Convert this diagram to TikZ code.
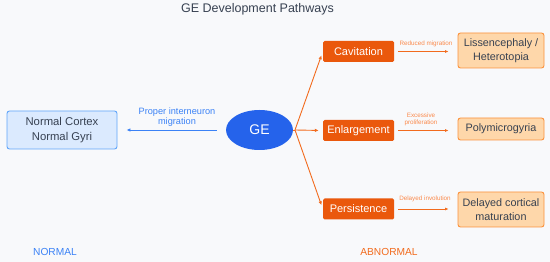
\documentclass[tikz,border=0pt]{standalone}
\usepackage{fontspec}
\setmainfont{Liberation Sans}
\usetikzlibrary{arrows.meta,shapes.geometric}
\definecolor{bg}{HTML}{F8F9FB}
\definecolor{txt}{HTML}{374151}
\definecolor{nfill}{HTML}{DBEAFE}
\definecolor{nborder}{HTML}{60A5FA}
\definecolor{geblue}{HTML}{2563EB}
\definecolor{lblue}{HTML}{3B82F6}
\definecolor{orbox}{HTML}{EA580C}
\definecolor{orline}{HTML}{F26B1D}
\definecolor{orlabel}{HTML}{FB8A4C}
\definecolor{pfill}{HTML}{FED7AA}
\definecolor{pborder}{HTML}{FB923C}
\begin{document}
\begin{tikzpicture}[x=1pt,y=-1pt,
  normbox/.style={draw=nborder,fill=nfill,rounded corners=2.5pt,line width=0.9pt,
    minimum width=110pt,minimum height=38pt,align=center,text=txt,
    font=\fontsize{11.3}{14.5}\selectfont,inner sep=0pt},
  geell/.style={ellipse,fill=geblue,minimum width=67pt,minimum height=40pt,
    text=white,font=\fontsize{14}{16}\selectfont,inner sep=0pt},
  orstep/.style={fill=orbox,rounded corners=1.5pt,minimum width=71pt,minimum height=21pt,
    text=white,font=\fontsize{11}{13}\selectfont,inner sep=0pt},
  outbox/.style={draw=pborder,fill=pfill,rounded corners=2.5pt,line width=0.9pt,
    minimum width=86pt,align=center,text=txt,
    font=\fontsize{10.8}{14}\selectfont,inner sep=0pt},
  blarrow/.style={draw=lblue,line width=0.9pt,-{Latex[length=4pt,width=3.5pt]}},
  orarrow/.style={draw=orline,line width=0.9pt,-{Latex[length=4pt,width=3.5pt]}},
  smallarrow/.style={draw=orline,line width=0.8pt,-{Latex[length=3.5pt,width=3pt]}},
  smalllab/.style={text=orlabel,font=\fontsize{6.3}{7.2}\selectfont,align=center,inner sep=0pt},
  seclab/.style={font=\fontsize{10.2}{12}\selectfont,inner sep=0pt}
]
\fill[bg] (0,0) rectangle (550,262);
\useasboundingbox (0,0) rectangle (550,262);

\node[text=txt,font=\fontsize{12.5}{14}\selectfont,inner sep=0pt] (title) at (257.5,9) {GE Development Pathways};

\node[normbox] (norm) at (62,130) {Normal Cortex\\Normal Gyri};
\node[geell] (ge) at (259.5,130) {GE};

\node[orstep] (cav) at (358.5,51.5) {Cavitation};
\node[orstep] (enl) at (358.5,130.5) {Enlargement};
\node[orstep] (per) at (358.5,209) {Persistence};

\node[outbox,minimum height=35pt] (lis) at (501,50.5) {Lissencephaly /\\Heterotopia};
\node[outbox,minimum height=22pt] (poly) at (501,129) {Polymicrogyria};
\node[outbox,minimum height=35pt] (del) at (501,209.5) {Delayed cortical\\maturation};

\draw[blarrow,shorten <=9pt,shorten >=9pt] (ge.west) -- (norm.east);
\node[text=lblue,font=\fontsize{9.2}{10.2}\selectfont,align=center,inner sep=0pt] (plab) at (177,117) {Proper interneuron\\migration};

\coordinate (br) at (295,130);
\draw[draw=orline,line width=0.9pt] (ge.east) -- (br);
\draw[orarrow,shorten >=4pt] (br) -- (cav.west);
\draw[orarrow,shorten >=4pt] (br) -- (enl.west);
\draw[orarrow,shorten >=4pt] (br) -- (per.west);

\draw[smallarrow,shorten <=4pt,shorten >=9pt] (cav.east) -- (cav.east -| lis.west);
\node[smalllab] (l1) at (426,44) {Reduced migration};
\draw[smallarrow,shorten <=4pt,shorten >=9pt] (enl.east) -- (enl.east -| poly.west);
\node[smalllab] (l2) at (421,119.5) {Excessive\\proliferation};
\draw[smallarrow,shorten <=4pt,shorten >=9pt] (per.east) -- (per.east -| del.west);
\node[smalllab] (l3) at (425,199) {Delayed involution};

\node[seclab,text=lblue] (nl) at (55,252) {NORMAL};
\node[seclab,text=orline] (al) at (389,252) {ABNORMAL};
\end{tikzpicture}
\end{document}
